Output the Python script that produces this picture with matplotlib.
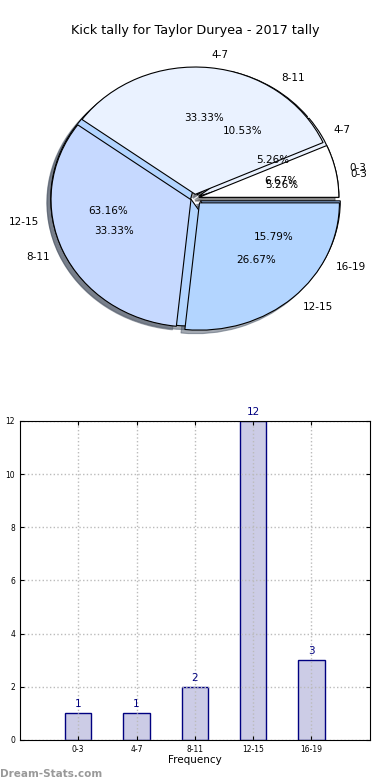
#!/usr/bin/env python3
import matplotlib
matplotlib.use("Agg")
import matplotlib.pyplot as plt
import numpy as np

#####################################################################################
# data
bins = ['0-3', '4-7', '8-11', '12-15', '16-19']
counts_a = [1, 1, 2, 12, 3]          # 19 kicks -> first pie + bars
bins_b = ['0-3', '4-7', '8-11', '12-15']
counts_b = [1, 5, 5, 4]              # 15 kicks -> second pie

title = "Kick tally for Taylor Duryea - 2017 tally"
pie_colors = ['#ffffff', '#eaf2ff', '#c6d9ff', '#b3d5ff', '#9fc6ff']

#####################################################################################
fontsize = 7.5
fig = plt.figure(figsize=(3.9, 7.8), dpi=100)

# pie (two pies laid over each other, no equal aspect -> ellipse)
ax1 = fig.add_axes([0.051, 0.542, 0.897, 0.408])
explode_a = [0.03, 0.03, 0.03, 0.03, 0.045]
explode_b = [0.03, 0.03, 0.03, 0.05]
shadow_kw = dict(shade=0.6)
w1, t1, p1 = ax1.pie(counts_a, labels=bins, colors=pie_colors, explode=explode_a,
                     autopct='%.2f%%', shadow=shadow_kw,
                     wedgeprops=dict(edgecolor='black', linewidth=0.8),
                     textprops=dict(fontsize=fontsize))
w2, t2, p2 = ax1.pie(counts_b, labels=bins_b, colors=pie_colors, explode=explode_b,
                     autopct='%.2f%%', shadow=shadow_kw,
                     wedgeprops=dict(edgecolor='black', linewidth=0.8),
                     textprops=dict(fontsize=fontsize))
ax1.set_aspect('auto')
ax1.set_xlim(-1.25, 1.25)
ax1.set_ylim(-1.25, 1.25)
fig.text(0.5, 0.961, title, ha='center', va='center', fontsize=9.2)

#####################################################################################
# bars
ax2 = fig.add_axes([0.051, 0.0513, 0.897, 0.409])
x = np.arange(len(bins))
ax2.bar(x, counts_a, width=0.45, color='#ccccE6', edgecolor='navy', linewidth=1, zorder=2)
for xi, c in zip(x, counts_a):
    ax2.text(xi, c + 0.15, str(c), ha='center', va='bottom', color='navy', fontsize=7.5)
ax2.set_xlim(-1, 5)
ax2.set_ylim(0, 12)
ax2.set_xticks(x)
ax2.set_xticklabels(bins)
ax2.set_yticks(range(0, 13, 2))
ax2.tick_params(labelsize=5.5, direction='in', length=3, top=True, right=True)
ax2.grid(True, linestyle=':', color='#bbbbbb', linewidth=1, zorder=2.2)
ax2.set_axisbelow(False)
for sp in ax2.spines.values():
    sp.set_zorder(3)
ax2.set_xlabel("Frequency", fontsize=7.5, labelpad=1)
ax2.set_ylabel("Distribution", fontsize=7.5)
ax2.yaxis.set_label_coords(-0.06, 0.5)

fig.text(0.0, 0.004, "Dream-Stats.com", color='#999999', fontsize=7.5, fontweight='bold')

fig.savefig("out.png", dpi=100)
